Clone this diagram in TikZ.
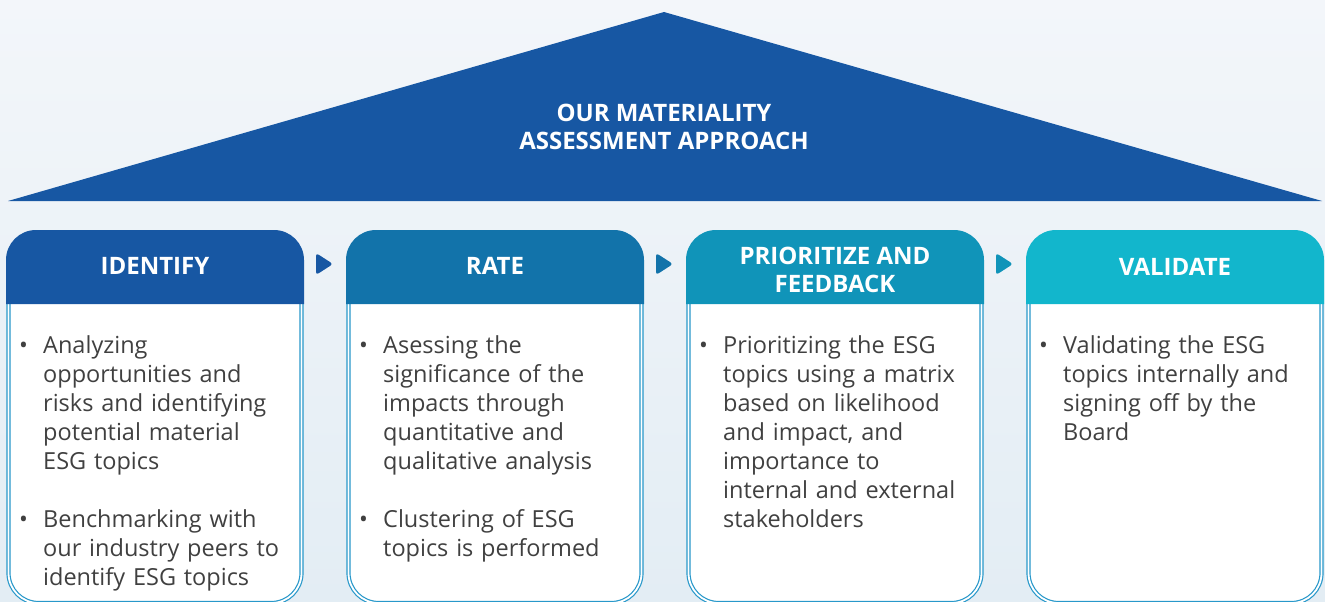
\documentclass[tikz,border=0pt]{standalone}
\usepackage{fontspec}
\setmainfont{Open Sans}
\begin{document}
\begin{tikzpicture}[x=1pt,y=-1pt]
% palette
\definecolor{bgtop}{RGB}{243,246,250}
\definecolor{bgbot}{RGB}{227,237,244}
\definecolor{roof}{RGB}{23,87,163}
\definecolor{cA}{RGB}{23,87,163}
\definecolor{cB}{RGB}{18,115,170}
\definecolor{cC}{RGB}{16,148,185}
\definecolor{cD}{RGB}{18,182,204}
\definecolor{rim}{RGB}{40,152,202}
\definecolor{bodytext}{RGB}{64,64,64}
\tikzset{
  titletext/.style={text=white, align=center, inner sep=0pt,
    font=\bfseries\fontsize{24}{28}\selectfont},
  headtext/.style={text=white, align=center, inner sep=0pt,
    font=\bfseries\fontsize{24}{28}\selectfont},
  bodybox/.style={fill=white, draw=rim, line width=1.2pt,
    double=white, double distance=1.8pt},
  bullettext/.style={anchor=north west, inner sep=0pt, text=bodytext,
    text width=295pt,
    font=\fontsize{23.5}{29}\selectfont},
  chevron/.style={rounded corners=3pt},
}
% one bullet item with a hanging indent; \nl breaks a line inside it
\newcommand{\nl}{\hfil\break}
\newcommand{\bul}[1]{\hangindent=24pt\hangafter=1\noindent\strut\makebox[24pt][l]{•}#1\par}
\newcommand{\gap}{\vspace{29pt}}

\useasboundingbox (0,0) rectangle (1325,602);
\clip (0,0) rectangle (1325,602);
\shade[top color=bgtop, bottom color=bgbot] (0,0) rectangle (1325,602);

% roof with the title
\fill[roof] (664,12) -- (1322,201) -- (8,201) -- cycle;
\node[titletext] (title) at (664,127) {OUR MATERIALITY\\ASSESSMENT APPROACH};

% four step cards
\foreach \i/\col/\hy/\lab in {0/cA/266/{IDENTIFY},1/cB/266/{RATE},2/cC/270/{PRIORITIZE AND\\FEEDBACK},3/cD/267/{VALIDATE}}{
  \pgfmathsetmacro{\xl}{6+340*\i}
  \path[bodybox] (\xl+2.5,290) [rounded corners=30pt] -- (\xl+2.5,603)
     -- (\xl+295.5,603) [sharp corners] -- (\xl+295.5,290);
  \fill[\col] (\xl,304) [rounded corners=30pt] -- (\xl,230) -- (\xl+298,230)
     [sharp corners] -- (\xl+298,304) -- cycle;
  \node[headtext] (head\i) at (\xl+149,\hy) {\lab};
}

% chevrons between cards
\fill[cA, chevron] (316,253) -- (333,264) -- (316,275) -- cycle;
\fill[cB, chevron] (656,253) -- (673,264) -- (656,275) -- cycle;
\fill[cC, chevron] (996,253) -- (1013,264) -- (996,275) -- cycle;

% card contents
\node[bullettext] (body0) at (19,333) {%
  \bul{Analyzing\nl opportunities and\nl risks and identifying\nl potential material\nl ESG topics}\gap
  \bul{Benchmarking with\nl our industry peers to\nl identify ESG topics}};
\node[bullettext] (body1) at (359,333) {%
  \bul{Asessing the\nl significance of the\nl impacts through\nl quantitative and\nl qualitative analysis}\gap
  \bul{Clustering of ESG\nl topics is performed}};
\node[bullettext] (body2) at (699,333) {%
  \bul{Prioritizing the ESG\nl topics using a matrix\nl based on likelihood\nl and impact, and\nl importance to\nl internal and external\nl stakeholders}};
\node[bullettext] (body3) at (1039,333) {%
  \bul{Validating the ESG\nl topics internally and\nl signing off by the\nl Board}};
\end{tikzpicture}
\end{document}
